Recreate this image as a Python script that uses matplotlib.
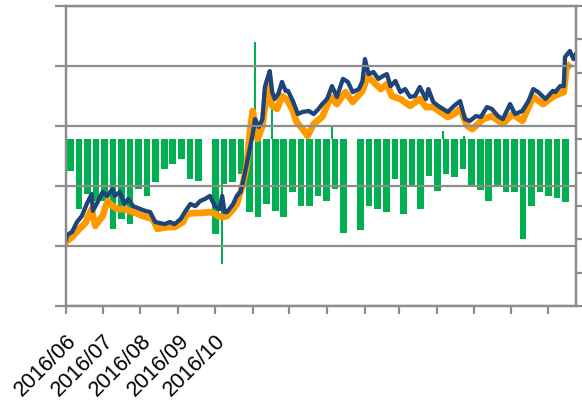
import numpy as np
import pandas as pd
import matplotlib
matplotlib.use("Agg")
import matplotlib.pyplot as plt

# --- data (days since 2016-06-01) ---
blue_days = [0, 1, 5, 9, 13, 17, 21, 22, 26, 30, 34, 38, 40, 44, 48, 51, 55, 61, 65, 69,
             73, 81, 85, 89, 94, 98, 102, 106, 110, 114, 118, 122, 126, 128, 130, 132, 137,
             140, 143, 145, 149, 153, 155, 158, 161, 163, 165, 167, 169, 171, 174, 177, 180,
             182, 186, 190, 194, 199, 203, 207, 210, 214, 218, 222, 227, 231, 235, 240, 243,
             245, 248, 252, 256, 260, 263, 266, 270, 274, 278, 282, 286, 290, 295, 297, 301,
             305, 309, 313, 318, 323, 327, 331, 336, 340, 345, 349, 354, 358, 364, 368, 374,
             379, 383, 387, 393, 399, 401, 405, 408, 409, 413, 416, 418]
blue_vals = [22.3, 23.7, 24.7, 28.0, 30.0, 34.0, 37.3, 31.7, 34.7, 38.0, 36.7, 39.0, 36.7,
             38.0, 34.0, 35.7, 33.3, 32.3, 31.7, 31.3, 28.0, 27.3, 28.0, 27.3, 29.0, 31.7,
             34.0, 33.3, 35.0, 35.7, 36.7, 33.3, 32.3, 36.7, 31.3, 31.3, 34.0, 36.7, 38.0,
             41.3, 49.0, 57.3, 62.3, 59.7, 62.3, 73.0, 75.7, 78.3, 71.3, 69.0, 70.7, 74.7,
             71.7, 71.7, 68.3, 64.0, 64.7, 65.0, 64.0, 65.7, 67.3, 69.0, 73.3, 69.7, 75.7,
             74.7, 71.3, 72.3, 75.0, 82.3, 77.3, 78.0, 75.7, 76.7, 77.3, 73.3, 75.0, 71.3,
             72.3, 69.7, 70.0, 73.0, 69.0, 72.3, 68.0, 66.7, 65.7, 64.7, 66.7, 68.3, 62.3,
             61.7, 63.3, 63.0, 66.3, 65.7, 63.3, 62.3, 67.3, 64.0, 65.0, 68.3, 72.3, 71.3,
             69.0, 71.7, 71.3, 73.3, 73.3, 83.0, 85.0, 82.3, 84.0]

orange_days = [0, 1, 5, 11, 16, 18, 21, 24, 30, 34, 36, 42, 48, 55, 63, 71, 75, 83, 89, 96,
               99, 106, 110, 118, 122, 126, 129, 132, 137, 140, 145, 148, 151, 153, 157, 161,
               165, 169, 173, 177, 182, 186, 189, 194, 198, 203, 210, 217, 222, 229, 235, 243,
               247, 252, 258, 263, 267, 274, 282, 290, 295, 301, 313, 318, 323, 329, 333, 342,
               349, 358, 366, 374, 383, 391, 400, 408, 410, 412]
orange_vals = [21.3, 21.7, 23.0, 25.7, 27.7, 29.7, 32.3, 26.7, 30.0, 35.0, 34.0, 32.3, 32.3,
               31.3, 30.0, 29.0, 25.7, 26.3, 26.3, 28.0, 30.7, 31.0, 31.0, 31.3, 30.7, 29.7,
               29.7, 30.0, 32.3, 34.0, 40.7, 46.7, 59.0, 65.0, 55.7, 60.0, 73.3, 66.7, 65.7,
               70.0, 68.3, 65.0, 61.3, 59.0, 56.7, 60.7, 63.0, 69.7, 67.3, 71.3, 68.0, 71.7,
               76.7, 74.7, 72.3, 74.0, 70.0, 69.0, 66.7, 69.0, 66.3, 66.3, 63.0, 64.0, 65.7,
               60.0, 59.0, 62.3, 63.3, 60.7, 64.0, 61.7, 69.7, 67.3, 70.0, 71.3, 79.0, 80.0]

# weekly green series (right axis)
green_weekly = [-0.96, -2.10, -1.65, -1.86, -1.86, -2.70, -2.40, -2.55, -1.50, -1.71,
                -1.29, -0.90, -0.75, -0.60, -1.20, -1.26, 0.0, -2.85, -1.35, -1.29,
                -1.05, -2.19, -2.34, -1.95, -2.16, -2.34, -1.59, -2.01, -2.01, -1.71,
                -1.86, -1.50, -2.82, 0.0, -2.73, -2.01, -2.10, -2.19, -1.20, -2.25,
                -1.41, -2.10, -1.11, -1.56, -1.05, -1.14, -0.90, -1.41, -1.53, -1.86,
                -1.41, -1.59, -1.59, -3.00, -2.01, -1.59, -1.71, -1.77, -1.89]
# single-day outliers
spike_days = [128, 155, 169, 218, 309, 326]
spike_vals = [-3.75, 2.91, 1.20, 0.36, 0.24, 0.09]

month_starts = pd.date_range("2016-06-01", periods=14, freq="MS")
tick_labels = ["2016/06", "2016/07", "2016/08", "2016/09", "2016/10"] + [""] * 9

gray = "#8c8c8c"

fig = plt.figure(figsize=(5.82, 4.10), dpi=100)
ax = fig.add_axes([66 / 582, 103 / 410, 510 / 582, 300 / 410])
ax2 = ax.twinx()
ax.set_zorder(ax2.get_zorder() + 1)
ax.patch.set_visible(False)

week_pos = 3.5 + 7 * np.arange(len(green_weekly))
ax2.bar(week_pos, green_weekly, width=5.4, color="#00b050", linewidth=0)
ax2.bar(spike_days, spike_vals, width=1.4, color="#00b050", linewidth=0)
ax2.set_ylim(-5, 4)
ax2.set_yticks(np.arange(-5, 5, 1))
ax2.set_yticklabels([])

ax.plot(orange_days, orange_vals, color="#ff9900", lw=4.8, solid_joinstyle="round")
ax.plot(blue_days, blue_vals, color="#1f4478", lw=3.1, solid_joinstyle="round")

ax.set_ylim(0, 100)
ax.set_yticks(np.arange(0, 101, 20))
ax.set_yticklabels([])
ax.grid(axis="y", color=gray, lw=1.6)
ax.set_axisbelow(False)

tick_days = (month_starts - pd.Timestamp("2016-06-01")).days
ax.set_xlim(0, 418)
ax.set_xticks(tick_days)
ax.set_xticklabels(tick_labels, rotation=45, ha="right", rotation_mode="anchor",
                   fontsize=15.5, family=["Liberation Sans", "DejaVu Sans"])

for a in (ax, ax2):
    for s in a.spines.values():
        s.set_color(gray)
        s.set_linewidth(1.6)
ax.tick_params(axis="x", length=6, width=1.6, color=gray, pad=11)
ax.tick_params(axis="y", length=8, width=1.6, color=gray)
ax2.tick_params(axis="y", length=6, width=1.6, color=gray)

fig.savefig("out.png", dpi=100)
